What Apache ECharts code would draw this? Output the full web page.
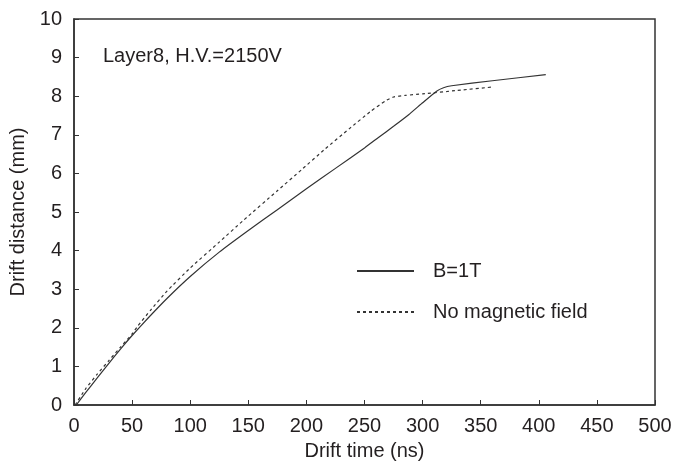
<!DOCTYPE html>
<html><head><meta charset="utf-8">
<script src="https://cdn.jsdelivr.net/npm/echarts@6/dist/echarts.min.js"></script>
<style>html,body{margin:0;padding:0;background:#fff}#c{width:678px;height:466px}</style>
</head><body><div id="c"></div>
<script>
var timeB = [2, 10, 20, 30, 40, 50, 64, 80, 100, 125, 150, 175, 200, 225, 250, 262, 275, 288, 300, 312, 318, 325, 360, 406];
var distB = [0, 0.32, 0.70, 1.08, 1.45, 1.80, 2.26, 2.76, 3.33, 3.96, 4.52, 5.06, 5.60, 6.13, 6.66, 6.93, 7.22, 7.52, 7.83, 8.13, 8.22, 8.27, 8.40, 8.56];
var timeN = [1, 10, 20, 30, 40, 50, 55, 66, 80, 100, 125, 146, 175, 196, 216, 237, 255, 268, 275, 285, 300, 330, 361];
var distN = [0, 0.42, 0.80, 1.15, 1.50, 1.84, 2.05, 2.46, 2.95, 3.55, 4.22, 4.79, 5.55, 6.10, 6.63, 7.16, 7.60, 7.88, 7.98, 8.02, 8.06, 8.15, 8.24];
var xTicks = [0, 50, 100, 150, 200, 250, 300, 350, 400, 450, 500];
var yTicks = [0, 1, 2, 3, 4, 5, 6, 7, 8, 9, 10];
var seriesNames = ['B=1T', 'No magnetic field'];
var annotation = 'Layer8, H.V.=2150V';

function pairs(t, d) { return t.map(function (v, i) { return [v, d[i]]; }); }
var FONT = "'Liberation Sans', Arial, Helvetica, sans-serif";
var TXT = '#231f20';
var FS = 20;
var chart = echarts.init(document.getElementById('c'), null, {renderer: 'canvas'});
chart.setOption({
  animation: false,
  backgroundColor: '#fff',
  grid: {left: 74, top: 19, right: 23, bottom: 58, show: true, borderColor: '#333', borderWidth: 1.5, backgroundColor: 'transparent'},
  xAxis: {
    type: 'value', min: xTicks[0], max: xTicks[xTicks.length - 1], interval: 50,
    name: 'Drift time (ns)', nameLocation: 'middle', nameGap: 36,
    nameTextStyle: {fontFamily: FONT, fontSize: FS, color: TXT},
    axisLine: {show: true, lineStyle: {color: '#333', width: 1.5}},
    axisTick: {show: true, inside: true, length: 5, lineStyle: {color: '#333'}},
    axisLabel: {fontFamily: FONT, fontSize: FS, color: TXT, margin: 11},
    splitLine: {show: false}
  },
  yAxis: {
    type: 'value', min: yTicks[0], max: yTicks[yTicks.length - 1], interval: 1,
    name: 'Drift distance (mm)', nameLocation: 'middle', nameGap: 43,
    nameTextStyle: {fontFamily: FONT, fontSize: FS, color: TXT},
    axisLine: {show: true, lineStyle: {color: '#333', width: 1.5}},
    axisTick: {show: true, inside: true, length: 5, lineStyle: {color: '#333'}},
    axisLabel: {fontFamily: FONT, fontSize: FS, color: TXT, margin: 12},
    splitLine: {show: false}
  },
  legend: {
    orient: 'vertical', left: 351, top: 255, itemWidth: 57, itemHeight: 14, itemGap: 19,
    itemStyle: {opacity: 0, borderWidth: 0},
    textStyle: {fontFamily: FONT, fontSize: FS, color: TXT, lineHeight: 22, padding: [0, 0, 0, 14]},
    data: seriesNames
  },
  graphic: [{
    type: 'text', left: 103, top: 46,
    style: {text: annotation, font: FS + 'px ' + FONT, fill: TXT}
  }],
  series: [
    {name: seriesNames[0], type: 'line', data: pairs(timeB, distB), showSymbol: false, symbol: 'none', smooth: 0.15,
     lineStyle: {color: '#333', width: 1.2, type: 'solid'}, itemStyle: {color: '#333'}},
    {name: seriesNames[1], type: 'line', data: pairs(timeN, distN), showSymbol: false, symbol: 'none', smooth: 0.15,
     lineStyle: {color: '#333', width: 1.2, type: [3, 3]}, itemStyle: {color: '#333'}}
  ]
});
</script></body></html>
